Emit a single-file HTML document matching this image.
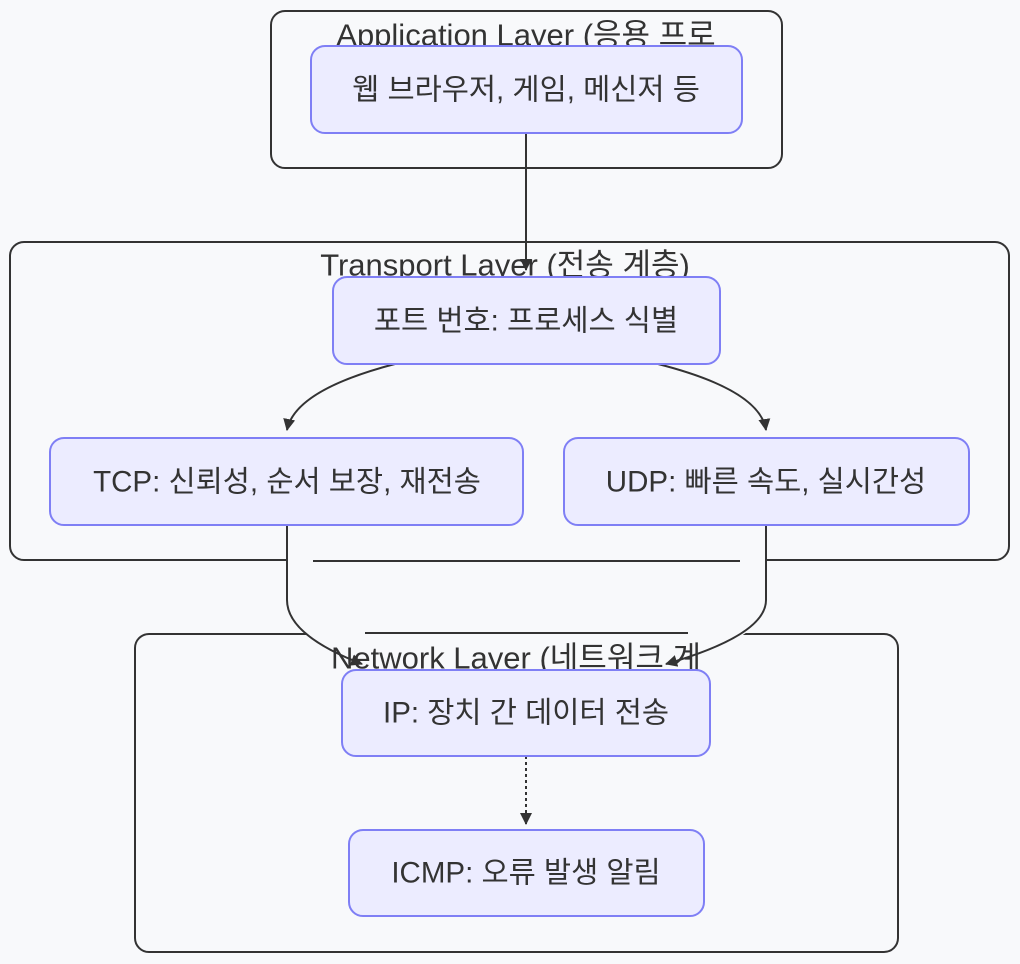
<!DOCTYPE html>
<html><head><meta charset="utf-8"><style>
html,body{margin:0;padding:0;background:#f8f9fb;}
svg{display:block}
text{font-family:"Liberation Sans","Noto Sans CJK KR",sans-serif;fill:#333;font-size:29.5px;text-anchor:middle;dominant-baseline:central}
.t{font-size:31px}
.c{fill:none;stroke:#333;stroke-width:2}
.n{fill:#ececff;stroke:#7f7ff5;stroke-width:2}
.e{fill:none;stroke:#333;stroke-width:2}
</style></head><body>
<svg width="1020" height="964" viewBox="0 0 1020 964">
<defs><marker id="a" markerWidth="14" markerHeight="14" refX="11" refY="6" orient="auto" markerUnits="userSpaceOnUse"><path d="M0,0 L12,6 L0,12 z" fill="#333"/></marker></defs>
<rect class="c" x="271" y="11" width="511" height="157" rx="14"/>
<rect class="c" x="10" y="242" width="999" height="318" rx="14"/>
<rect class="c" x="135" y="634" width="763" height="318" rx="14"/>
<path d="M287,525 L287,600 Q287,625 320,642 L730,642 Q766,625 766,600 L766,525 Z" fill="#f8f9fb" stroke="none"/>
<line x1="313" y1="561" x2="740" y2="561" stroke="#333" stroke-width="2"/>
<line x1="365" y1="633" x2="688" y2="633" stroke="#333" stroke-width="2"/>
<text class="t" x="526" y="35">Application Layer (응용 프로</text>
<text class="t" x="505" y="265">Transport Layer (전송 계층)</text>
<text class="t" x="516" y="658">Network Layer (네트워크 계</text>
<path class="e" d="M526,133 L526,270" marker-end="url(#a)"/>
<path class="e" d="M395,364 Q295,390 287,430" marker-end="url(#a)"/>
<path class="e" d="M658,364 Q760,390 766,430" marker-end="url(#a)"/>
<path class="e" d="M287,525 L287,600 Q287,635 362,664" marker-end="url(#a)"/>
<path class="e" d="M766,525 L766,600 Q766,635 666,664" marker-end="url(#a)"/>
<path class="e" d="M526,756 L526,824" stroke-dasharray="3,3" marker-end="url(#a)"/>
<rect class="n" x="311" y="46" width="431" height="87" rx="14"/>
<text x="526" y="90">웹 브라우저, 게임, 메신저 등</text>
<rect class="n" x="333" y="277" width="387" height="87" rx="14"/>
<text x="526" y="321">포트 번호: 프로세스 식별</text>
<rect class="n" x="50" y="438" width="473" height="87" rx="14"/>
<text x="287" y="482">TCP: 신뢰성, 순서 보장, 재전송</text>
<rect class="n" x="564" y="438" width="405" height="87" rx="14"/>
<text x="766" y="482">UDP: 빠른 속도, 실시간성</text>
<rect class="n" x="342" y="670" width="368" height="86" rx="14"/>
<text x="526" y="713">IP: 장치 간 데이터 전송</text>
<rect class="n" x="349" y="830" width="355" height="86" rx="14"/>
<text x="526" y="873">ICMP: 오류 발생 알림</text>
</svg>
</body></html>
